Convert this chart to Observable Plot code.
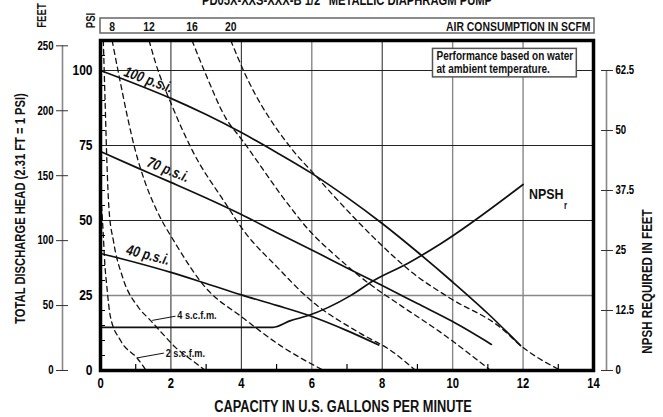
<!DOCTYPE html>
<html><head><meta charset="utf-8">
<script src="https://cdn.jsdelivr.net/npm/d3@7"></script>
<script src="https://cdn.jsdelivr.net/npm/@observablehq/plot@0.6"></script>
<style>
body{margin:0;background:#fff;}
</style></head><body><div id="chart"></div>
<script>
// ---------- data ----------
const title = 'PD05X-XXS-XXX-B 1/2" METALLIC DIAPHRAGM PUMP';
const xTicks = [0, 2, 4, 6, 8, 10, 12, 14];
const xMinor = [1, 3, 5, 7, 9, 11, 13];
const psiTicks = [0, 25, 50, 75, 100];
const psiMinor = [5, 10, 15, 20, 30, 35, 40, 45, 55, 60, 65, 70, 80, 85, 90, 95, 105];
const feetTicks = [0, 50, 100, 150, 200, 250];
const npshTicks = [0, 12.5, 25, 37.5, 50, 62.5];
const FT_PER_PSI = 2.31;
const NPSH_FT_PER_UNIT = 0.625;
const gridXDark = [2, 4, 8];
const gridXGray = [6, 10, 12];
const gridYDark = [50, 75, 100];
const gridYGray = [25];

// head curves (gpm, psi)
const head100 = [[0,100],[1,95.5],[2,90.7],[3,85.3],[4,79.3],[5,72.7],[6,65.7],[7,57.7],[8,49],[9,39.5],[10,29.5],[11,19],[11.93,8.3]];
const head70  = [[0,73],[1,67.8],[2,62.7],[3,57.5],[4,52],[5,46],[6,40.2],[7,34.2],[8,28.3],[9,22.3],[10,16.3],[11.1,8.7]];
const head40  = [[0,39],[1,36],[2,32.7],[3,29],[4,25.2],[5,21.7],[6,18],[7,13.3],[7.9,8.5]];
const pressureLabels = ["100 p.s.i.", "70 p.s.i.", "40 p.s.i."];
const pressureLabelX = [1.36, 1.92, 1.35];
const pressureLabelY = [96.9, 66.9, 38.5];
const pressureLabelAngle = [20, 22, 14.5];

// air consumption curves (gpm, psi)
const air2  = [[0.03,55],[0.08,45],[0.12,36],[0.18,28],[0.28,18],[0.57,10],[1.05,4],[1.3,0]];
const air4  = [[0.08,110],[0.13,90],[0.18,70],[0.24,54],[0.37,43],[0.63,31],[1.08,21],[1.42,16.7],[1.76,12.3],[2.13,7.7],[2.61,3.3],[2.98,0]];
const air8  = [[0.33,110],[0.57,95.7],[0.77,84.3],[0.99,73.3],[1.28,62.3],[1.56,54.3],[2.13,42.3],[2.98,27.7],[4.03,17.7],[5.11,8.3],[6.34,0]];
const air12 = [[1.38,110],[1.56,102.7],[2.05,87.7],[2.61,73.3],[3.55,55.7],[4.06,46.7],[5.03,34.3],[5.88,24.3],[7.39,12.3],[8.24,6.7],[8.95,0]];
const air16 = [[2.6,110],[2.98,99],[3.55,84.3],[4.03,76.7],[5.31,55.7],[5.88,47.3],[6.73,37.7],[7.59,29.3],[8.52,21.7],[9.66,12.7],[11.08,0]];
const air20 = [[3.7,110],[4.06,100],[5.40,74.3],[6.05,65.7],[6.82,55.7],[7.76,44.3],[8.89,32.3],[9.94,24],[11.36,14.3],[11.93,8.3],[13.07,0]];
const topScfm = [8, 12, 16, 20];

// NPSH required (gpm, feet)
const npsh = [[0,9],[4.9,9],[5.4,10.4],[5.88,11.4],[7.1,15.6],[7.76,18.75],[8.72,22.3],[9.66,26.4],[12,38.75]];

// s.c.f.m. notes
const scfmNoteText = ["4 s.c.f.m.", "2 s.c.f.m."];
const scfmNoteX = [2.18, 1.85];
const scfmNoteY = [18.5, 5.7];
const leaderFrom = [[1.47,16.7],[1.04,4.2]];
const leaderTo   = [[2.13,18.1],[1.8,5.8]];
const note = "Performance based on water\nat ambient temperature.";

// ---------- build ----------
const FONT = '"Liberation Sans",Arial,sans-serif';
const CONDENSE = 0.8;
const pt = {x: d => d[0], y: d => d[1], curve: "monotone-x"};
const airSeries = [air2, air4, air8, air12, air16, air20];
const topAir = [air8, air12, air16, air20].map((s, i) => ({x: s[0][0], t: String(topScfm[i])}));
const pLabels = pressureLabels.map((t, i) => ({t, x: pressureLabelX[i], y: pressureLabelY[i], r: pressureLabelAngle[i]}));
const notes = scfmNoteText.map((t, i) => ({t, x: scfmNoteX[i], y: scfmNoteY[i]}));
const leaders = leaderFrom.map((f, i) => ({x1: f[0], y1: f[1], x2: leaderTo[i][0], y2: leaderTo[i][1]}));
const npshEnd = npsh[npsh.length - 1];

const ink = "#111";
const B = {fontWeight: "bold", fill: ink};
const plot = Plot.plot({
  width: 663, height: 417,
  marginLeft: 100, marginRight: 70, marginTop: 40, marginBottom: 47,
  style: {fontFamily: FONT, background: "#fff", overflow: "visible"},
  x: {domain: [0, 14]},
  y: {domain: [0, 110]},
  marks: [
    Plot.ruleX(gridXDark, {stroke: "#222", strokeWidth: 1}),
    Plot.ruleX(gridXGray, {stroke: "#888", strokeWidth: 1.4}),
    Plot.ruleY(gridYDark, {stroke: "#222", strokeWidth: 1}),
    Plot.ruleY(gridYGray, {stroke: "#888", strokeWidth: 1.4}),
    ...airSeries.map(s => Plot.line(s, {...pt, stroke: ink, strokeWidth: 1.3, strokeDasharray: "5,4"})),
    ...[head100, head70, head40].map(s => Plot.line(s, {...pt, stroke: ink, strokeWidth: 1.7})),
    Plot.line(npsh, {x: d => d[0], y: d => d[1] / NPSH_FT_PER_UNIT, curve: "monotone-x", stroke: ink, strokeWidth: 1.7}),
    Plot.link(leaders, {x1: "x1", y1: "y1", x2: "x2", y2: "y2", stroke: ink, strokeWidth: 1}),
    Plot.text(pLabels, {x: "x", y: "y", text: "t", rotate: "r", fontSize: 15, fontStyle: "italic", ...B}),
    Plot.text(notes, {x: "x", y: "y", text: "t", textAnchor: "start", fontSize: 11.5, ...B}),
    Plot.text([npshEnd], {x: d => d[0], y: d => d[1] / NPSH_FT_PER_UNIT, text: () => "NPSH", textAnchor: "start", dx: 6, dy: 10, fontSize: 15.5, ...B}),
    Plot.text([npshEnd], {x: d => d[0], y: d => d[1] / NPSH_FT_PER_UNIT, text: () => "r", textAnchor: "start", dx: 41, dy: 21, fontSize: 10, ...B}),
    Plot.text([note], {frameAnchor: "top-right", textAnchor: "start", lineAnchor: "top", dx: -157, dy: 11, fontSize: 12.5, lineHeight: 1.0, ...B}),
    Plot.frame({stroke: "#000", strokeWidth: 3.5}),
    // axes
    Plot.axisX({ticks: xTicks, tickSize: 0, tickPadding: 8, fontSize: 14, fontWeight: "bold", label: null}),
    Plot.axisX({ticks: xMinor, tickSize: -6, tickFormat: () => "", label: null, strokeWidth: 1.2}),
    Plot.axisY({anchor: "left", ticks: psiTicks, tickSize: 0, tickPadding: 8, fontSize: 15, fontWeight: "bold", label: null}),
    Plot.axisY({anchor: "left", ticks: psiMinor, tickSize: -5, tickFormat: () => "", label: null}),
    Plot.ruleX([0], {y1: 0, y2: 250 / FT_PER_PSI, dx: -38, stroke: "#888", strokeWidth: 1.6}),
    Plot.axisY({anchor: "left", ticks: feetTicks.map(f => f / FT_PER_PSI), tickFormat: d => Math.round(d * FT_PER_PSI), tickSize: 12, dx: -32, tickPadding: 3, fontSize: 12, fontWeight: "bold", stroke: "#333", label: null}),
    Plot.ruleX([14], {y1: 0, y2: 62.5 / NPSH_FT_PER_UNIT, dx: 13, stroke: "#888", strokeWidth: 1.6}),
    Plot.axisY({anchor: "right", ticks: npshTicks.map(n => n / NPSH_FT_PER_UNIT), tickFormat: d => String(+(d * NPSH_FT_PER_UNIT).toFixed(1)), tickSize: 12, dx: 7, tickPadding: 3, fontSize: 12, fontWeight: "bold", stroke: "#333", label: null}),
    // top air consumption bar labels
    Plot.text(topAir, {x: "x", text: "t", frameAnchor: "top", lineAnchor: "middle", dy: -14, fontSize: 13, ...B}),
    Plot.text(["AIR CONSUMPTION IN SCFM"], {frameAnchor: "top-right", textAnchor: "end", lineAnchor: "middle", dx: -3, dy: -14, fontSize: 13, ...B}),
    Plot.text(["PSI"], {frameAnchor: "top-left", textAnchor: "middle", lineAnchor: "middle", rotate: -90, dx: -9, dy: -20, fontSize: 12, ...B}),
    Plot.text(["FEET"], {frameAnchor: "top-left", textAnchor: "middle", lineAnchor: "middle", rotate: -90, dx: -58, dy: -25, fontSize: 12, ...B}),
    // titles
    Plot.text([title], {frameAnchor: "top", textAnchor: "middle", lineAnchor: "middle", dx: 0, dy: -39.5, fontSize: 14, ...B}),
    Plot.text(["TOTAL DISCHARGE HEAD (2.31 FT = 1 PSI)"], {frameAnchor: "left", textAnchor: "middle", lineAnchor: "middle", rotate: -90, dx: -80, dy: 3, fontSize: 14, ...B}),
    Plot.text(["NPSH REQUIRED IN FEET"], {frameAnchor: "right", textAnchor: "middle", lineAnchor: "middle", rotate: -90, dx: 54, dy: 76, fontSize: 14.5, ...B}),
    Plot.text(["CAPACITY IN U.S. GALLONS PER MINUTE"], {frameAnchor: "bottom", textAnchor: "middle", lineAnchor: "middle", dx: -4, dy: 36, fontSize: 16, ...B})
  ]
});
document.getElementById("chart").appendChild(plot);

const svg = d3.select(plot);
// condensed lettering (like Helvetica Condensed Bold)
svg.selectAll("text").each(function(){
  const spans = this.querySelectorAll("tspan");
  const items = spans.length ? Array.from(spans) : [this];
  for (const el of items) {
    const len = el.getComputedTextLength();
    if (len > 0) {
      el.setAttribute("textLength", (len * CONDENSE).toFixed(2));
      el.setAttribute("lengthAdjust", "spacingAndGlyphs");
    }
  }
});
// note box
svg.selectAll("text").filter(function(){ return this.textContent.startsWith("Performance"); }).each(function(){
  const b = this.getBBox();
  const r = document.createElementNS("http://www.w3.org/2000/svg", "rect");
  r.setAttribute("x", b.x - 4); r.setAttribute("y", b.y - 1);
  r.setAttribute("width", b.width + 7); r.setAttribute("height", b.height + 2);
  r.setAttribute("fill", "#fff"); r.setAttribute("stroke", "#555"); r.setAttribute("stroke-width", 1.5);
  if (this.getAttribute("transform")) r.setAttribute("transform", this.getAttribute("transform"));
  this.parentNode.insertBefore(r, this);
});
// top air-consumption bar
svg.append("rect").attr("x", 100).attr("y", 18).attr("width", 494).attr("height", 15)
  .attr("fill", "none").attr("stroke", "#666").attr("stroke-width", 1.5);
</script></body></html>
